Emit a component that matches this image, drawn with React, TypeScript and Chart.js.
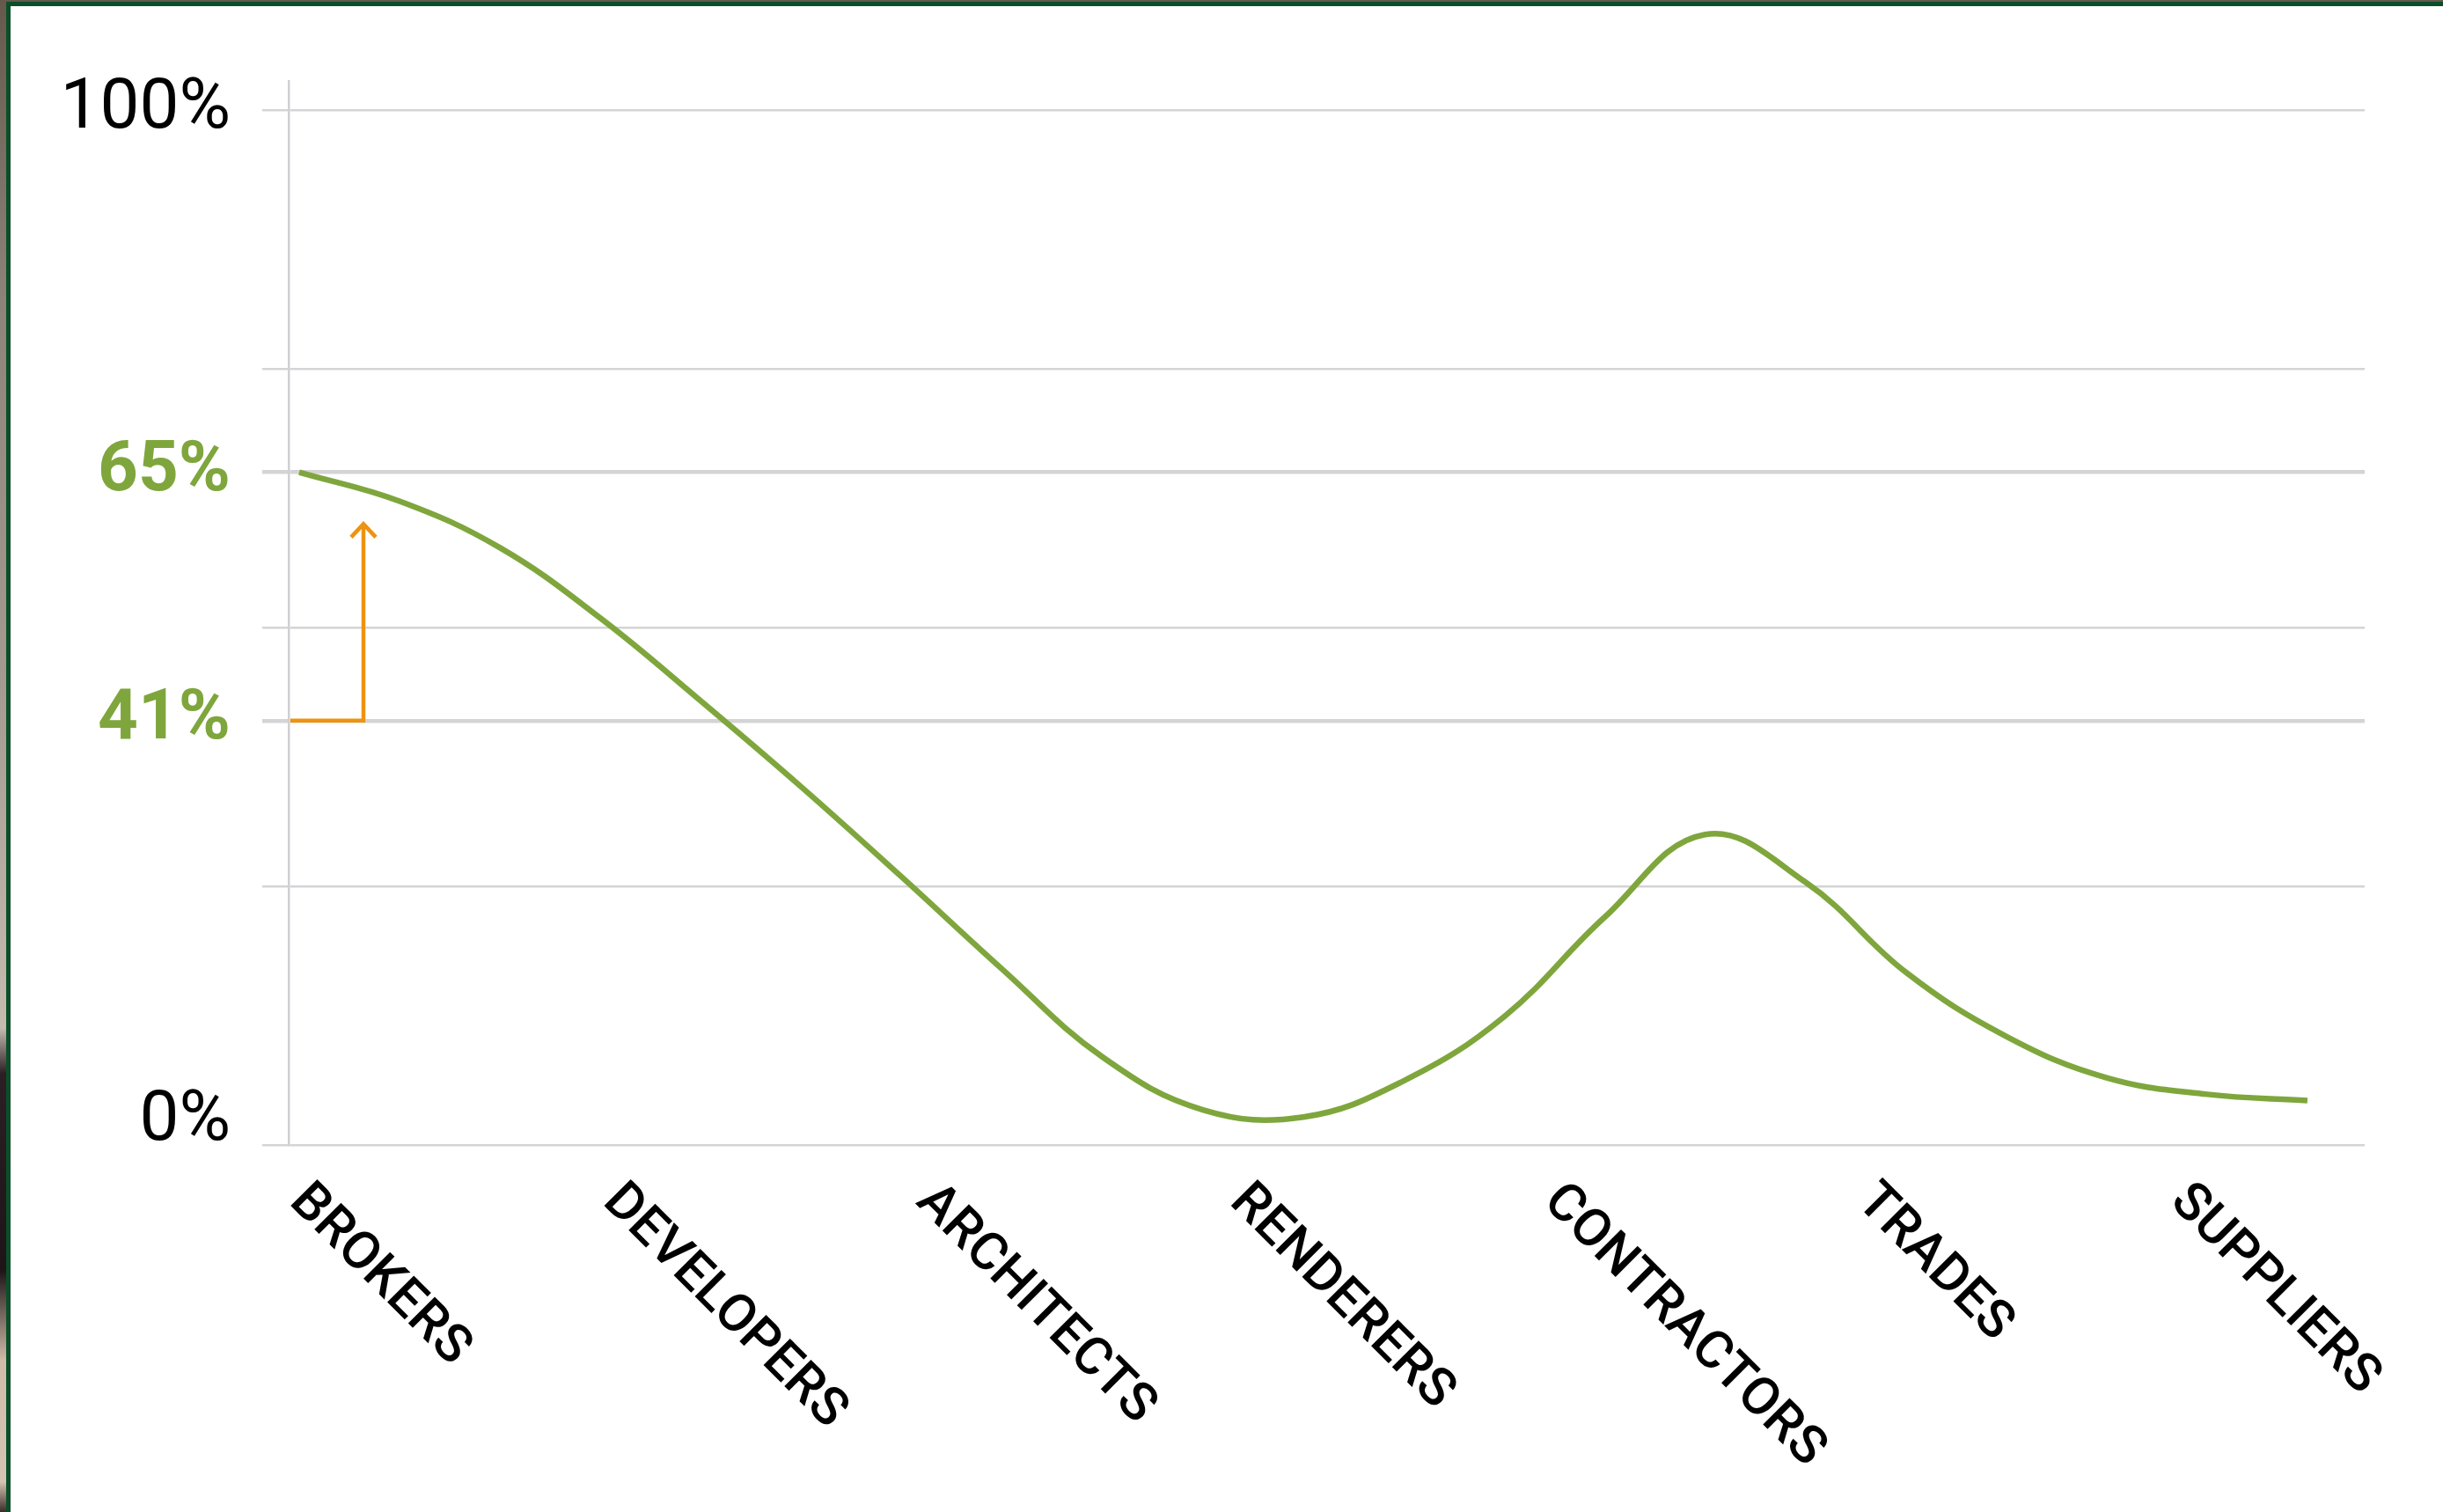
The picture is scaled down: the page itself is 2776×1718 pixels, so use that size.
import React, { useEffect, useRef } from 'react';
import { Chart, registerables, LinearScale } from 'chart.js';

Chart.register(...registerables);

// ---------- data ----------
const categories = ['BROKERS', 'DEVELOPERS', 'ARCHITECTS', 'RENDERERS', 'CONTRACTORS', 'TRADES', 'SUPPLIERS'];
// the smooth curve at 21 evenly spaced positions from its left end to its right end (percent)
const curveValues = [65, 62.2, 57.7, 50.9, 42.9, 34.6, 25.9, 17.0, 8.5, 3.4, 2.7, 6.2, 12.4, 22.0, 30.0, 25.4, 16.7, 10.5, 6.5, 4.9, 4.3];
const yTickValues = [0, 25, 41, 50, 65, 75, 100];
const yTickLabels = ['0%', '', '41%', '', '65%', '', '100%'];
const highlightTicks = [41, 65];
const arrowFrom = 41;
const arrowTo = 65;

const GREEN = '#7fa63d';
const ORANGE = '#ee930f';
const GRID = '#d4d4d6';

class SlantedLinearScale extends LinearScale {
  static id = 'slantedLinear';
  calculateLabelRotation() {
    (this as any).labelRotation = -45;
  }
  _getXAxisLabelAlignment() {
    return 'left';
  }
}
Chart.register(SlantedLinearScale as any);

function hasFont(name: string): boolean {
  const c = document.createElement('canvas').getContext('2d');
  if (!c) return false;
  const s = 'CONTRACTORS 100% 65';
  c.font = '100px monospace';
  const a = c.measureText(s).width;
  c.font = `100px '${name}', monospace`;
  const b = c.measureText(s).width;
  return Math.abs(a - b) > 1;
}

const arrowPlugin = {
  id: 'growthArrow',
  afterDatasetsDraw(chart: any) {
    const { ctx, chartArea, scales } = chart;
    const y = scales.y;
    const yFrom = y.getPixelForValue(arrowFrom);
    const yTip = y.getPixelForValue(arrowTo - 5); // arrow stops short of the target line
    const x0 = chartArea.left + 2;
    const x1 = chartArea.left + 85;
    ctx.save();
    ctx.strokeStyle = ORANGE;
    ctx.lineWidth = 4.5;
    ctx.lineJoin = 'miter';
    ctx.lineCap = 'butt';
    ctx.beginPath();
    ctx.moveTo(x0, yFrom);
    ctx.lineTo(x1, yFrom);
    ctx.lineTo(x1, yTip);
    ctx.stroke();
    ctx.beginPath();
    ctx.moveTo(x1 - 14, yTip + 15);
    ctx.lineTo(x1, yTip);
    ctx.lineTo(x1 + 14, yTip + 15);
    ctx.stroke();
    ctx.restore();
  },
};

export default function App() {
  const ref = useRef<HTMLCanvasElement | null>(null);

  useEffect(() => {
    if (!ref.current) return;
    const narrow = hasFont('Liberation Sans Narrow');
    const family = narrow ? "'Liberation Sans Narrow', Roboto, sans-serif" : 'Roboto, sans-serif';
    const ySize = narrow ? 88 : 80;
    const xSize = narrow ? 64 : 60;

    const W = 2776;
    const H = 1718;
    const plotLeft = 328;
    const plotRight = 2687;
    const plotBottom = 1301;

    const chart = new Chart(ref.current, {
      type: 'line',
      data: {
        datasets: [
          {
            data: curveValues.map((v, i) => ({ x: i, y: v })),
            xAxisID: 'xl',
            yAxisID: 'y',
            borderColor: GREEN,
            borderWidth: 6.5,
            pointRadius: 0,
            tension: 0.4,
            fill: false,
          } as any,
        ],
      },
      options: {
        responsive: false,
        animation: false,
        events: [],
        layout: { padding: { top: 92, right: W - plotRight, left: 0, bottom: 0 } },
        plugins: { legend: { display: false }, tooltip: { enabled: false } },
        scales: {
          xl: {
            type: 'linear',
            display: false,
            min: -0.105,
            max: 20.57,
          },
          x: {
            type: 'slantedLinear' as any,
            position: 'bottom',
            min: -0.028,
            max: 6.596,
            afterBuildTicks: (s: any) => {
              s.ticks = categories.map((_, i) => ({ value: i }));
            },
            afterFit: (s: any) => {
              s.height = H - plotBottom;
              s.paddingLeft = 0;
              s.paddingRight = 0;
            },
            ticks: {
              autoSkip: false,
              padding: 30,
              color: '#000',
              font: { family, size: xSize, weight: '500' },
              callback: (v: any) => categories[v as number] ?? '',
            },
            grid: { display: false, drawTicks: false },
            border: { display: false },
          } as any,
          y: {
            type: 'linear',
            min: 0,
            max: 102.8,
            afterBuildTicks: (s: any) => {
              s.ticks = yTickValues.map((v) => ({ value: v }));
            },
            afterFit: (s: any) => {
              s.width = plotLeft;
            },
            ticks: {
              autoSkip: false,
              padding: 36,
              callback: (v: any) => {
                const t = yTickLabels[yTickValues.indexOf(v as number)] ?? '';
                return v === 0 ? [t, ''] : t;
              },
              color: (ctx: any) => (highlightTicks.includes(ctx.tick?.value) ? GREEN : '#000'),
              font: (ctx: any) => ({
                family,
                size: ySize,
                weight: highlightTicks.includes(ctx.tick?.value) ? 'bold' : 'normal',
                lineHeight: 0.66,
              }),
            },
            grid: {
              color: GRID,
              lineWidth: (ctx: any) => (highlightTicks.includes(ctx.tick?.value) ? 4.5 : 2.5),
              tickLength: 30,
              drawTicks: true,
            },
            border: { display: true, color: '#d0d0d3', width: 2.5 },
          } as any,
        },
      },
      plugins: [arrowPlugin],
    });
    return () => chart.destroy();
  }, []);

  return (
    <div
      style={{
        position: 'fixed',
        left: 0,
        top: 0,
        width: 2776,
        height: 1718,
        background:
          'linear-gradient(to bottom, #65594c 0%, #8d8379 20%, #a49a90 45%, #c6bbaf 68%, #2b1f24 71%, #1d1518 84%, #cfbca9 90%, #d6c4b3 98%, #3a2c2a 100%)',
      }}
    >
      <div style={{ position: 'absolute', left: 7, top: 2, right: 0, bottom: 0, background: '#0b4f29' }} />
      <div style={{ position: 'absolute', left: 12, top: 7, right: 0, bottom: 0, background: '#ffffff' }} />
      <canvas
        ref={ref}
        width={2776}
        height={1718}
        style={{ position: 'absolute', left: 0, top: 0, width: 2776, height: 1718 }}
      />
    </div>
  );
}
